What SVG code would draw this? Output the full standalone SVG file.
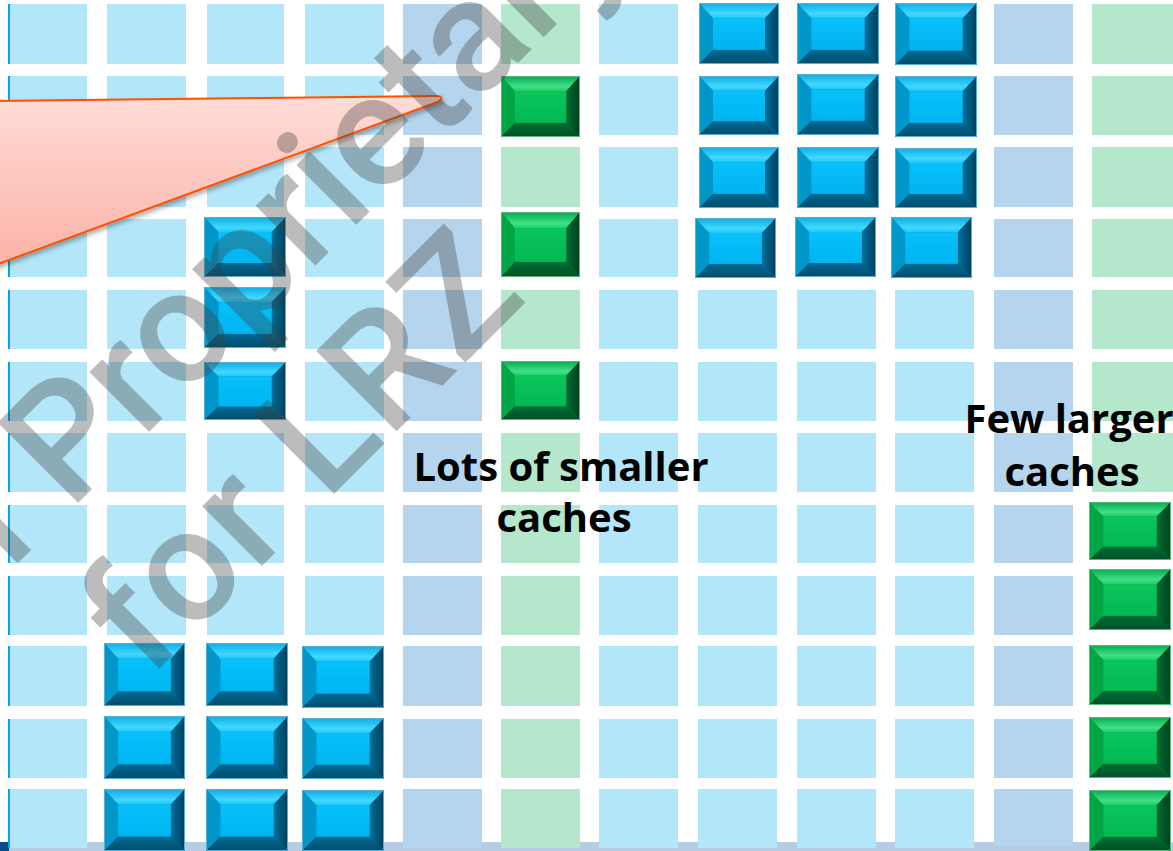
<svg xmlns="http://www.w3.org/2000/svg" xmlns:xlink="http://www.w3.org/1999/xlink" width="1173" height="851" viewBox="0 0 1173 851">
<style>
.lb{fill:#b3e6f8}
.sb{fill:#b5d4ed}
.gr{fill:#b5e7cd}
.edge{fill:#00a8e6}
.lbl{font-family:"Open Sans","Noto Sans",sans-serif;font-weight:700;font-size:40px;fill:#000;text-anchor:middle}
.wm{font-family:Roboto,"Noto Sans",sans-serif;font-weight:500;font-size:160px;fill:#404040;fill-opacity:0.35}
</style>
<defs>
<linearGradient id="bTop" x1="0" y1="0" x2="0" y2="1"><stop offset="0" stop-color="#10ace2"/><stop offset="0.7" stop-color="#40d8ff"/><stop offset="1" stop-color="#20c6f8"/></linearGradient>
<linearGradient id="bRight" x1="0" y1="0" x2="1" y2="0"><stop offset="0" stop-color="#00709c"/><stop offset="1" stop-color="#003e5a"/></linearGradient>
<linearGradient id="bBot" x1="0" y1="0" x2="0" y2="1"><stop offset="0" stop-color="#006a94"/><stop offset="1" stop-color="#004c6a"/></linearGradient>
<linearGradient id="bFace" x1="0" y1="0" x2="0" y2="1"><stop offset="0" stop-color="#08c0fa"/><stop offset="1" stop-color="#00b4f0"/></linearGradient>
<linearGradient id="gTop" x1="0" y1="0" x2="0" y2="1"><stop offset="0" stop-color="#06aa4c"/><stop offset="0.7" stop-color="#40e088"/><stop offset="1" stop-color="#1ccf66"/></linearGradient>
<linearGradient id="gRight" x1="0" y1="0" x2="1" y2="0"><stop offset="0" stop-color="#006e32"/><stop offset="1" stop-color="#00401c"/></linearGradient>
<linearGradient id="gBot" x1="0" y1="0" x2="0" y2="1"><stop offset="0" stop-color="#007036"/><stop offset="1" stop-color="#004e24"/></linearGradient>
<linearGradient id="gFace" x1="0" y1="0" x2="0" y2="1"><stop offset="0" stop-color="#0ac65c"/><stop offset="1" stop-color="#02b852"/></linearGradient>
<linearGradient id="call" x1="0" y1="0" x2="0" y2="1"><stop offset="0" stop-color="#ffdcd7"/><stop offset="1" stop-color="#fbb2a6"/></linearGradient>
<filter id="sh" x="-10%" y="-10%" width="120%" height="130%"><feDropShadow dx="2" dy="3" stdDeviation="2" flood-color="#000" flood-opacity="0.3"/></filter>
<symbol id="bb" viewBox="0 0 80 60" preserveAspectRatio="none">
<rect width="80" height="60" fill="#0084b4"/>
<polygon points="0,0 80,0 66,15 14,15" fill="url(#bTop)"/>
<polygon points="0,0 14,15 14,46 0,60" fill="#0096ca"/>
<polygon points="80,0 80,60 66,46 66,15" fill="url(#bRight)"/>
<polygon points="0,60 14,46 66,46 80,60" fill="url(#bBot)"/>
<rect x="14" y="15" width="52" height="31" fill="url(#bFace)"/>
<rect x="0.5" y="0.5" width="79" height="59" fill="none" stroke="#5ab0d4" stroke-width="1" vector-effect="non-scaling-stroke"/>
</symbol>
<symbol id="gb" viewBox="0 0 80 60" preserveAspectRatio="none">
<rect width="80" height="60" fill="#008e3e"/>
<polygon points="0,0 80,0 66,15 14,15" fill="url(#gTop)"/>
<polygon points="0,0 14,15 14,46 0,60" fill="#00a646"/>
<polygon points="80,0 80,60 66,46 66,15" fill="url(#gRight)"/>
<polygon points="0,60 14,46 66,46 80,60" fill="url(#gBot)"/>
<rect x="14" y="15" width="52" height="31" fill="url(#gFace)"/>
<rect x="0.5" y="0.5" width="79" height="59" fill="none" stroke="#5ab880" stroke-width="1" vector-effect="non-scaling-stroke"/>
</symbol>
</defs>
<rect width="1173" height="851" fill="#fff"/>
<g id="bottom-bar">
<rect x="0" y="842" width="1173" height="9" fill="#b5cde3"/>
<rect x="0" y="842" width="9" height="9" fill="#0b4b8c"/>
</g>
<g id="grid">
<rect class="lb" x="8" y="4" width="79" height="60"/><rect class="lb" x="8" y="76" width="79" height="59"/><rect class="lb" x="8" y="147" width="79" height="60"/><rect class="lb" x="8" y="219" width="79" height="58"/><rect class="lb" x="8" y="290" width="79" height="59"/><rect class="lb" x="8" y="362" width="79" height="59"/><rect class="lb" x="8" y="433" width="79" height="59"/><rect class="lb" x="8" y="505" width="79" height="58"/><rect class="lb" x="8" y="576" width="79" height="59"/><rect class="lb" x="8" y="646" width="79" height="60"/><rect class="lb" x="8" y="719" width="79" height="59"/><rect class="lb" x="8" y="789" width="79" height="59"/>
<rect class="lb" x="107" y="4" width="79" height="60"/><rect class="lb" x="107" y="76" width="79" height="59"/><rect class="lb" x="107" y="147" width="79" height="60"/><rect class="lb" x="107" y="219" width="79" height="58"/><rect class="lb" x="107" y="290" width="79" height="59"/><rect class="lb" x="107" y="362" width="79" height="59"/><rect class="lb" x="107" y="433" width="79" height="59"/><rect class="lb" x="107" y="505" width="79" height="58"/><rect class="lb" x="107" y="576" width="79" height="59"/>
<rect class="lb" x="207" y="4" width="77" height="60"/><rect class="lb" x="207" y="76" width="77" height="59"/><rect class="lb" x="207" y="147" width="77" height="60"/><rect class="lb" x="207" y="433" width="77" height="59"/><rect class="lb" x="207" y="505" width="77" height="58"/><rect class="lb" x="207" y="576" width="77" height="59"/>
<rect class="lb" x="305" y="4" width="79" height="60"/><rect class="lb" x="305" y="76" width="79" height="59"/><rect class="lb" x="305" y="147" width="79" height="60"/><rect class="lb" x="305" y="219" width="79" height="58"/><rect class="lb" x="305" y="290" width="79" height="59"/><rect class="lb" x="305" y="362" width="79" height="59"/><rect class="lb" x="305" y="433" width="79" height="59"/><rect class="lb" x="305" y="505" width="79" height="58"/><rect class="lb" x="305" y="576" width="79" height="59"/>
<rect class="sb" x="403" y="4" width="79" height="60"/><rect class="sb" x="403" y="76" width="79" height="59"/><rect class="sb" x="403" y="147" width="79" height="60"/><rect class="sb" x="403" y="219" width="79" height="58"/><rect class="sb" x="403" y="290" width="79" height="59"/><rect class="sb" x="403" y="362" width="79" height="59"/><rect class="sb" x="403" y="433" width="79" height="59"/><rect class="sb" x="403" y="505" width="79" height="58"/><rect class="sb" x="403" y="576" width="79" height="59"/><rect class="sb" x="403" y="646" width="79" height="60"/><rect class="sb" x="403" y="719" width="79" height="59"/><rect class="sb" x="403" y="789" width="79" height="59"/>
<rect class="gr" x="501" y="4" width="79" height="60"/><rect class="gr" x="501" y="147" width="79" height="60"/><rect class="gr" x="501" y="290" width="79" height="59"/><rect class="gr" x="501" y="433" width="79" height="59"/><rect class="gr" x="501" y="505" width="79" height="58"/><rect class="gr" x="501" y="576" width="79" height="59"/><rect class="gr" x="501" y="646" width="79" height="60"/><rect class="gr" x="501" y="719" width="79" height="59"/><rect class="gr" x="501" y="789" width="79" height="59"/>
<rect class="lb" x="599" y="4" width="79" height="60"/><rect class="lb" x="599" y="76" width="79" height="59"/><rect class="lb" x="599" y="147" width="79" height="60"/><rect class="lb" x="599" y="219" width="79" height="58"/><rect class="lb" x="599" y="290" width="79" height="59"/><rect class="lb" x="599" y="362" width="79" height="59"/><rect class="lb" x="599" y="433" width="79" height="59"/><rect class="lb" x="599" y="505" width="79" height="58"/><rect class="lb" x="599" y="576" width="79" height="59"/><rect class="lb" x="599" y="646" width="79" height="60"/><rect class="lb" x="599" y="719" width="79" height="59"/><rect class="lb" x="599" y="789" width="79" height="59"/>
<rect class="lb" x="698" y="290" width="79" height="59"/><rect class="lb" x="698" y="362" width="79" height="59"/><rect class="lb" x="698" y="433" width="79" height="59"/><rect class="lb" x="698" y="505" width="79" height="58"/><rect class="lb" x="698" y="576" width="79" height="59"/><rect class="lb" x="698" y="646" width="79" height="60"/><rect class="lb" x="698" y="719" width="79" height="59"/><rect class="lb" x="698" y="789" width="79" height="59"/>
<rect class="lb" x="797" y="290" width="79" height="59"/><rect class="lb" x="797" y="362" width="79" height="59"/><rect class="lb" x="797" y="433" width="79" height="59"/><rect class="lb" x="797" y="505" width="79" height="58"/><rect class="lb" x="797" y="576" width="79" height="59"/><rect class="lb" x="797" y="646" width="79" height="60"/><rect class="lb" x="797" y="719" width="79" height="59"/><rect class="lb" x="797" y="789" width="79" height="59"/>
<rect class="lb" x="895" y="290" width="79" height="59"/><rect class="lb" x="895" y="362" width="79" height="59"/><rect class="lb" x="895" y="433" width="79" height="59"/><rect class="lb" x="895" y="505" width="79" height="58"/><rect class="lb" x="895" y="576" width="79" height="59"/><rect class="lb" x="895" y="646" width="79" height="60"/><rect class="lb" x="895" y="719" width="79" height="59"/><rect class="lb" x="895" y="789" width="79" height="59"/>
<rect class="sb" x="994" y="4" width="79" height="60"/><rect class="sb" x="994" y="76" width="79" height="59"/><rect class="sb" x="994" y="147" width="79" height="60"/><rect class="sb" x="994" y="219" width="79" height="58"/><rect class="sb" x="994" y="290" width="79" height="59"/><rect class="sb" x="994" y="362" width="79" height="59"/><rect class="sb" x="994" y="433" width="79" height="59"/><rect class="sb" x="994" y="505" width="79" height="58"/><rect class="sb" x="994" y="576" width="79" height="59"/><rect class="sb" x="994" y="646" width="79" height="60"/><rect class="sb" x="994" y="719" width="79" height="59"/><rect class="sb" x="994" y="789" width="79" height="57"/>
<rect class="gr" x="1092" y="4" width="81" height="60"/><rect class="gr" x="1092" y="76" width="81" height="59"/><rect class="gr" x="1092" y="147" width="81" height="60"/><rect class="gr" x="1092" y="219" width="81" height="58"/><rect class="gr" x="1092" y="290" width="81" height="59"/><rect class="gr" x="1092" y="362" width="81" height="59"/><rect class="gr" x="1092" y="433" width="81" height="59"/>
<rect class="edge" x="8" y="4" width="2" height="60"/><rect class="edge" x="8" y="76" width="2" height="59"/><rect class="edge" x="8" y="147" width="2" height="60"/><rect class="edge" x="8" y="219" width="2" height="58"/><rect class="edge" x="8" y="290" width="2" height="59"/><rect class="edge" x="8" y="362" width="2" height="59"/><rect class="edge" x="8" y="433" width="2" height="59"/><rect class="edge" x="8" y="505" width="2" height="58"/><rect class="edge" x="8" y="576" width="2" height="59"/><rect class="edge" x="8" y="646" width="2" height="60"/><rect class="edge" x="8" y="719" width="2" height="59"/><rect class="edge" x="8" y="789" width="2" height="59"/>
</g>
<g id="blue-column-caches">
<use xlink:href="#bb" x="204" y="217" width="82" height="60"/>
<use xlink:href="#bb" x="204" y="287" width="82" height="61"/>
<use xlink:href="#bb" x="204" y="362" width="82" height="58"/>
</g>
<g id="blue-top-right-caches">
<use xlink:href="#bb" x="699" y="3" width="80" height="61"/>
<use xlink:href="#bb" x="797" y="3" width="82" height="61"/>
<use xlink:href="#bb" x="895" y="3" width="82" height="62"/>
<use xlink:href="#bb" x="699" y="76" width="80" height="59"/>
<use xlink:href="#bb" x="797" y="74" width="82" height="61"/>
<use xlink:href="#bb" x="895" y="76" width="82" height="61"/>
<use xlink:href="#bb" x="699" y="147" width="80" height="61"/>
<use xlink:href="#bb" x="797" y="147" width="82" height="61"/>
<use xlink:href="#bb" x="895" y="148" width="82" height="60"/>
<use xlink:href="#bb" x="695" y="218" width="81" height="60"/>
<use xlink:href="#bb" x="795" y="217" width="81" height="60"/>
<use xlink:href="#bb" x="891" y="217" width="81" height="61"/>
</g>
<g id="blue-bottom-left-caches">
<use xlink:href="#bb" x="104" y="643" width="81" height="63"/>
<use xlink:href="#bb" x="206" y="643" width="82" height="63"/>
<use xlink:href="#bb" x="302" y="646" width="82" height="62"/>
<use xlink:href="#bb" x="104" y="716" width="81" height="63"/>
<use xlink:href="#bb" x="206" y="716" width="82" height="63"/>
<use xlink:href="#bb" x="302" y="718" width="82" height="61"/>
<use xlink:href="#bb" x="104" y="789" width="81" height="62"/>
<use xlink:href="#bb" x="206" y="789" width="82" height="62"/>
<use xlink:href="#bb" x="302" y="790" width="82" height="61"/>
</g>
<g id="green-small-caches">
<use xlink:href="#gb" x="501" y="76" width="79" height="61"/>
<use xlink:href="#gb" x="501" y="212" width="79" height="65"/>
<use xlink:href="#gb" x="501" y="361" width="79" height="59"/>
</g>
<g id="green-large-caches">
<use xlink:href="#gb" x="1089" y="502" width="82" height="58"/>
<use xlink:href="#gb" x="1089" y="569" width="82" height="61"/>
<use xlink:href="#gb" x="1089" y="645" width="82" height="60"/>
<use xlink:href="#gb" x="1089" y="717" width="82" height="61"/>
<use xlink:href="#gb" x="1089" y="790" width="82" height="61"/>
</g>
<g id="callout">
<path d="M -10,101 L 436,96 Q 445,96 439,101.5 L -10,267 Z" fill="url(#call)" stroke="#ff5000" stroke-width="2" stroke-linejoin="round" filter="url(#sh)"/>
</g>
<g id="label-small">
<text class="lbl" x="561" y="481">Lots of smaller</text>
<text class="lbl" x="564" y="532">caches</text>
</g>
<g id="label-large">
<text class="lbl" x="1069" y="433">Few larger</text>
<text class="lbl" x="1072" y="486">caches</text>
</g>
<g id="watermark">
<text class="wm" transform="translate(70,511) rotate(-45)" x="0" y="0">Proprietary</text>
<text class="wm" transform="translate(70,511) rotate(-45)" x="-44" y="0" text-anchor="end">Intel</text>
<text class="wm" transform="translate(148,680) rotate(-45)" x="0" y="0" letter-spacing="2">for LRZ</text>
</g>
</svg>
